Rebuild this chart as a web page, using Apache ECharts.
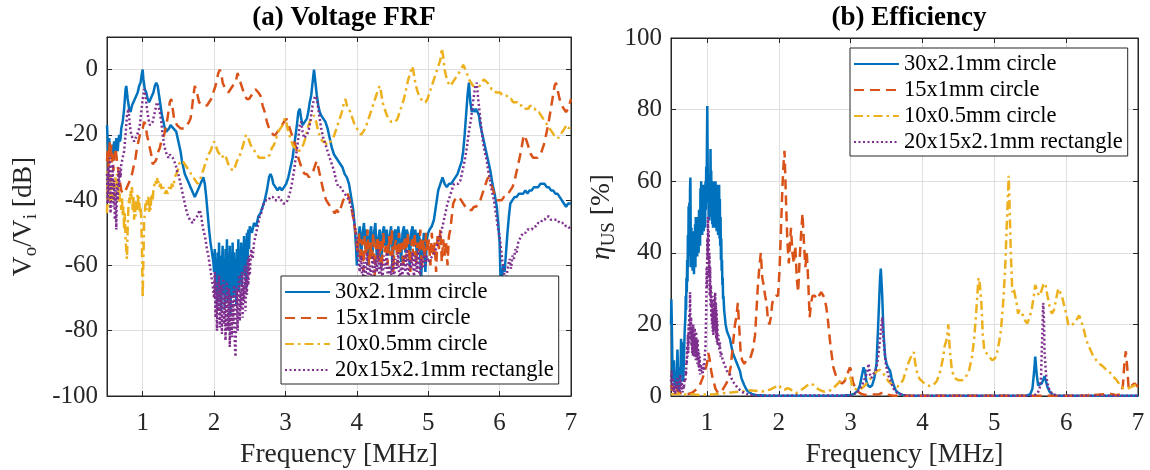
<!DOCTYPE html>
<html><head><meta charset="utf-8">
<script src="https://cdn.jsdelivr.net/npm/echarts@6/dist/echarts.min.js"></script>
<style>html,body{margin:0;padding:0;background:#fff}#c{width:1150px;height:470px}</style>
</head><body><div id="c"></div>
<script>
// ---------- data ----------
const seriesNames = ['30x2.1mm circle', '15x1mm circle', '10x0.5mm circle', '20x15x2.1mm rectangle'];
const freqTicks = [1, 2, 3, 4, 5, 6, 7];
const frfTicks = [-100, -80, -60, -40, -20, 0];
const effTicks = [0, 20, 40, 60, 80, 100];

// (a) Voltage FRF [dB] vs frequency [MHz]
const frfCircle30 = [[0.50,-17],[0.51,-22],[0.52,-26],[0.53,-21],[0.54,-24],[0.55,-27],[0.56,-23],[0.57,-25],[0.58,-28],[0.59,-24],[0.60,-22],[0.61,-26],[0.62,-24],[0.63,-21],[0.64,-23],[0.65,-25],[0.66,-22],[0.67,-20],[0.68,-22],[0.69,-21],[0.70,-18],[0.72,-16],[0.74,-12],[0.76,-6],[0.77,-5],[0.79,-9],[0.81,-12],[0.83,-13],[0.85,-11],[0.87,-11],[0.89,-9],[0.91,-8],[0.93,-7],[0.95,-5],[0.97,-4],[0.99,-1],[1.0,0],[1.01,-3],[1.03,-6],[1.05,-7],[1.07,-9],[1.09,-10],[1.11,-9],[1.13,-8],[1.15,-7],[1.17,-5],[1.19,-4],[1.21,-5],[1.23,-8],[1.25,-11],[1.27,-14],[1.29,-16],[1.31,-18],[1.33,-19],[1.35,-19],[1.37,-18],[1.39,-17],[1.41,-17],[1.43,-18],[1.45,-18],[1.47,-19],[1.49,-21],[1.51,-23],[1.53,-25],[1.55,-28],[1.57,-30],[1.59,-32],[1.61,-33],[1.63,-34],[1.65,-35],[1.67,-36],[1.69,-37],[1.71,-38],[1.73,-39],[1.75,-38],[1.77,-37],[1.79,-36],[1.81,-35],[1.83,-34],[1.85,-33],[1.87,-35],[1.89,-39],[1.91,-44],[1.93,-49],[1.95,-53],[1.97,-56],[1.99,-59],[2.00,-62],[2.01,-55],[2.02,-68],[2.03,-58],[2.04,-72],[2.05,-56],[2.06,-66],[2.07,-53],[2.08,-70],[2.09,-57],[2.10,-74],[2.11,-60],[2.12,-54],[2.13,-69],[2.14,-58],[2.15,-73],[2.16,-55],[2.17,-65],[2.18,-52],[2.19,-71],[2.20,-57],[2.21,-67],[2.22,-54],[2.23,-75],[2.24,-59],[2.25,-63],[2.26,-53],[2.27,-70],[2.28,-56],[2.29,-66],[2.30,-58],[2.31,-72],[2.32,-55],[2.33,-64],[2.34,-52],[2.35,-68],[2.36,-57],[2.37,-62],[2.38,-53],[2.39,-66],[2.40,-55],[2.41,-60],[2.42,-51],[2.43,-63],[2.44,-52],[2.45,-67],[2.46,-50],[2.47,-58],[2.48,-49],[2.49,-55],[2.50,-48],[2.53,-50],[2.56,-47],[2.59,-48],[2.62,-45],[2.65,-44],[2.68,-42],[2.71,-40],[2.74,-37],[2.77,-33],[2.79,-32],[2.81,-33],[2.83,-35],[2.86,-36],[2.89,-37],[2.92,-36],[2.95,-37],[2.98,-36],[3.01,-35],[3.04,-33],[3.07,-30],[3.10,-27],[3.13,-22],[3.16,-17],[3.18,-13],[3.20,-12],[3.22,-15],[3.24,-17],[3.27,-16],[3.30,-15],[3.32,-13],[3.34,-10],[3.36,-8],[3.38,-4],[3.40,0],[3.42,-4],[3.44,-8],[3.46,-11],[3.48,-13],[3.50,-14],[3.53,-15],[3.56,-16],[3.59,-18],[3.62,-21],[3.65,-24],[3.68,-26],[3.71,-27],[3.74,-28],[3.77,-29],[3.80,-30],[3.83,-32],[3.86,-33],[3.89,-35],[3.92,-39],[3.95,-43],[3.97,-48],[3.99,-55],[4.00,-60],[4.02,-52],[4.04,-48],[4.06,-58],[4.08,-50],[4.10,-47],[4.12,-55],[4.14,-49],[4.16,-60],[4.18,-51],[4.20,-48],[4.22,-56],[4.24,-50],[4.26,-47],[4.28,-58],[4.30,-52],[4.32,-49],[4.34,-61],[4.36,-50],[4.38,-48],[4.40,-54],[4.42,-49],[4.44,-57],[4.46,-51],[4.48,-48],[4.50,-62],[4.52,-50],[4.54,-49],[4.56,-55],[4.58,-48],[4.60,-52],[4.62,-59],[4.64,-50],[4.66,-48],[4.68,-56],[4.70,-49],[4.72,-51],[4.74,-60],[4.76,-50],[4.78,-48],[4.80,-54],[4.82,-49],[4.84,-57],[4.86,-50],[4.88,-52],[4.90,-64],[4.92,-55],[4.94,-50],[4.96,-62],[4.98,-52],[5.00,-50],[5.02,-49],[5.05,-48],[5.08,-46],[5.10,-43],[5.12,-40],[5.14,-37],[5.17,-35],[5.20,-33],[5.23,-35],[5.26,-36],[5.29,-35],[5.32,-35],[5.35,-34],[5.38,-33],[5.41,-32],[5.44,-30],[5.47,-28],[5.49,-25],[5.51,-20],[5.53,-14],[5.55,-8],[5.57,-4],[5.59,-10],[5.61,-13],[5.63,-12],[5.65,-13],[5.67,-12],[5.69,-12],[5.71,-14],[5.73,-17],[5.75,-19],[5.78,-22],[5.81,-25],[5.84,-28],[5.87,-31],[5.90,-35],[5.93,-38],[5.96,-42],[5.98,-47],[6.00,-53],[6.01,-62],[6.02,-70],[6.03,-64],[6.05,-60],[6.07,-62],[6.09,-56],[6.11,-50],[6.13,-45],[6.15,-41],[6.18,-40],[6.21,-39],[6.24,-39],[6.27,-38],[6.30,-38],[6.33,-38],[6.36,-37],[6.39,-38],[6.42,-37],[6.45,-37],[6.48,-36],[6.51,-36],[6.54,-36],[6.57,-35],[6.60,-35],[6.63,-35],[6.66,-36],[6.69,-36],[6.72,-37],[6.75,-37],[6.78,-38],[6.81,-38],[6.84,-39],[6.87,-40],[6.90,-41],[6.93,-42],[6.96,-41],[7.0,-41]];
const frfCircle15 = [[0.50,-28],[0.51,-24],[0.52,-30],[0.53,-25],[0.54,-22],[0.55,-27],[0.56,-23],[0.57,-29],[0.58,-26],[0.59,-31],[0.60,-27],[0.62,-24],[0.64,-28],[0.66,-31],[0.68,-34],[0.70,-37],[0.72,-38],[0.74,-38],[0.76,-37],[0.78,-36],[0.80,-36],[0.82,-34],[0.84,-33],[0.86,-31],[0.88,-29],[0.90,-27],[0.92,-24],[0.94,-22],[0.96,-20],[0.98,-19],[1.00,-18],[1.02,-16],[1.04,-17],[1.06,-20],[1.08,-22],[1.10,-24],[1.12,-26],[1.14,-29],[1.16,-29],[1.18,-28],[1.20,-27],[1.22,-25],[1.24,-24],[1.26,-22],[1.28,-21],[1.30,-20],[1.32,-18],[1.34,-16],[1.36,-13],[1.38,-10],[1.40,-9],[1.42,-12],[1.44,-15],[1.46,-16],[1.48,-17],[1.50,-17],[1.53,-18],[1.56,-18],[1.59,-18],[1.62,-17],[1.65,-16],[1.67,-15],[1.69,-12],[1.71,-8],[1.73,-5],[1.75,-5],[1.77,-8],[1.79,-10],[1.81,-10],[1.84,-11],[1.87,-11],[1.90,-11],[1.93,-10],[1.96,-9],[1.99,-7],[2.02,-5],[2.04,-3],[2.06,-1],[2.08,0],[2.10,-1],[2.12,-4],[2.14,-5],[2.17,-6],[2.20,-7],[2.23,-6],[2.26,-5],[2.29,-4],[2.31,-3],[2.33,-1],[2.35,-3],[2.37,-4],[2.40,-6],[2.43,-8],[2.46,-9],[2.49,-9],[2.52,-8],[2.55,-7],[2.58,-6],[2.60,-6],[2.62,-7],[2.65,-8],[2.68,-11],[2.71,-13],[2.74,-16],[2.77,-18],[2.80,-19],[2.83,-20],[2.86,-20],[2.89,-19],[2.92,-18],[2.95,-17],[2.98,-16],[3.01,-15],[3.03,-16],[3.06,-18],[3.09,-20],[3.12,-22],[3.15,-24],[3.18,-27],[3.21,-29],[3.24,-31],[3.27,-32],[3.30,-32],[3.33,-33],[3.36,-32],[3.39,-31],[3.42,-29],[3.44,-28],[3.46,-30],[3.48,-32],[3.51,-35],[3.54,-38],[3.57,-40],[3.60,-41],[3.63,-42],[3.66,-43],[3.69,-44],[3.72,-43],[3.75,-44],[3.78,-42],[3.81,-40],[3.84,-39],[3.87,-38],[3.90,-40],[3.93,-43],[3.96,-47],[3.99,-51],[4.01,-56],[4.03,-50],[4.05,-59],[4.07,-52],[4.09,-62],[4.11,-51],[4.13,-57],[4.15,-49],[4.17,-60],[4.19,-53],[4.21,-58],[4.23,-50],[4.25,-63],[4.27,-54],[4.29,-51],[4.31,-59],[4.33,-52],[4.35,-61],[4.37,-50],[4.39,-56],[4.41,-53],[4.43,-60],[4.45,-51],[4.47,-57],[4.49,-49],[4.51,-62],[4.53,-54],[4.55,-52],[4.57,-60],[4.59,-50],[4.61,-56],[4.63,-53],[4.65,-61],[4.67,-51],[4.69,-58],[4.71,-50],[4.73,-55],[4.75,-62],[4.77,-52],[4.79,-57],[4.81,-50],[4.83,-60],[4.85,-53],[4.87,-56],[4.89,-49],[4.91,-61],[4.93,-52],[4.95,-58],[4.97,-50],[4.99,-56],[5.01,-52],[5.03,-60],[5.05,-50],[5.07,-57],[5.09,-53],[5.11,-62],[5.13,-51],[5.15,-55],[5.17,-49],[5.19,-59],[5.21,-52],[5.23,-57],[5.25,-53],[5.27,-60],[5.29,-51],[5.31,-49],[5.33,-45],[5.35,-41],[5.37,-40],[5.40,-39],[5.43,-39],[5.46,-40],[5.49,-41],[5.52,-42],[5.55,-43],[5.58,-43],[5.61,-43],[5.64,-42],[5.67,-42],[5.70,-41],[5.73,-40],[5.76,-38],[5.79,-36],[5.82,-34],[5.84,-33],[5.86,-33],[5.88,-35],[5.91,-37],[5.94,-39],[5.97,-40],[6.00,-40],[6.03,-40],[6.06,-39],[6.09,-39],[6.12,-38],[6.15,-37],[6.18,-36],[6.21,-34],[6.24,-31],[6.27,-28],[6.30,-25],[6.33,-21],[6.35,-20],[6.38,-22],[6.41,-24],[6.44,-26],[6.47,-27],[6.50,-27],[6.53,-27],[6.56,-26],[6.59,-25],[6.62,-23],[6.65,-20],[6.68,-17],[6.71,-13],[6.74,-9],[6.77,-5],[6.79,-4],[6.81,-6],[6.84,-9],[6.87,-11],[6.90,-12],[6.93,-13],[6.96,-12],[7.00,-9]];
const frfCircle10 = [[0.50,-44],[0.51,-31],[0.52,-38],[0.53,-33],[0.54,-42],[0.55,-32],[0.56,-37],[0.57,-35],[0.58,-40],[0.59,-36],[0.60,-34],[0.61,-39],[0.62,-33],[0.63,-37],[0.64,-32],[0.65,-38],[0.66,-36],[0.67,-41],[0.68,-38],[0.69,-40],[0.70,-43],[0.71,-39],[0.72,-45],[0.73,-42],[0.74,-49],[0.75,-44],[0.76,-52],[0.77,-55],[0.78,-58],[0.79,-48],[0.80,-42],[0.81,-39],[0.82,-41],[0.83,-37],[0.84,-40],[0.85,-36],[0.86,-43],[0.87,-39],[0.88,-46],[0.89,-41],[0.90,-45],[0.91,-40],[0.92,-43],[0.93,-38],[0.94,-41],[0.95,-39],[0.96,-44],[0.97,-42],[0.98,-46],[0.99,-55],[1.00,-70],[1.01,-58],[1.02,-47],[1.03,-44],[1.04,-41],[1.05,-43],[1.06,-40],[1.07,-42],[1.08,-39],[1.09,-44],[1.10,-41],[1.11,-43],[1.12,-39],[1.13,-38],[1.14,-40],[1.15,-37],[1.16,-36],[1.17,-34],[1.19,-35],[1.21,-33],[1.23,-36],[1.25,-35],[1.27,-37],[1.29,-36],[1.31,-38],[1.33,-37],[1.35,-38],[1.37,-36],[1.39,-37],[1.41,-35],[1.43,-36],[1.45,-33],[1.47,-32],[1.49,-31],[1.51,-29],[1.53,-28],[1.56,-28],[1.59,-29],[1.62,-30],[1.65,-31],[1.68,-32],[1.71,-33],[1.74,-34],[1.77,-35],[1.80,-34],[1.83,-32],[1.86,-30],[1.89,-28],[1.92,-26],[1.95,-25],[1.98,-23],[2.00,-22],[2.02,-23],[2.05,-25],[2.08,-26],[2.11,-27],[2.14,-26],[2.17,-27],[2.20,-29],[2.23,-30],[2.26,-31],[2.29,-30],[2.32,-28],[2.35,-27],[2.38,-25],[2.41,-23],[2.43,-21],[2.45,-20],[2.48,-21],[2.51,-23],[2.54,-24],[2.57,-25],[2.60,-26],[2.63,-27],[2.66,-27],[2.69,-27],[2.72,-27],[2.75,-27],[2.78,-26],[2.81,-24],[2.84,-23],[2.87,-21],[2.90,-19],[2.93,-18],[2.96,-17],[2.99,-15],[3.01,-16],[3.04,-19],[3.07,-21],[3.10,-23],[3.13,-24],[3.16,-24],[3.19,-25],[3.22,-24],[3.25,-23],[3.28,-21],[3.31,-18],[3.34,-16],[3.37,-15],[3.40,-14],[3.43,-16],[3.46,-19],[3.49,-21],[3.52,-22],[3.55,-22],[3.58,-23],[3.61,-22],[3.64,-22],[3.67,-21],[3.70,-19],[3.73,-17],[3.76,-15],[3.79,-13],[3.82,-10],[3.84,-9],[3.86,-11],[3.88,-12],[3.91,-13],[3.94,-15],[3.97,-17],[4.00,-18],[4.03,-19],[4.06,-20],[4.09,-19],[4.12,-18],[4.15,-16],[4.18,-14],[4.21,-12],[4.24,-10],[4.27,-8],[4.30,-6],[4.32,-5],[4.34,-7],[4.36,-10],[4.39,-12],[4.42,-14],[4.45,-15],[4.48,-16],[4.51,-16],[4.54,-16],[4.57,-15],[4.60,-13],[4.63,-11],[4.66,-9],[4.69,-6],[4.72,-3],[4.75,-1],[4.77,1],[4.79,0],[4.81,-3],[4.84,-6],[4.87,-8],[4.90,-9],[4.93,-10],[4.96,-10],[4.99,-9],[5.02,-7],[5.05,-5],[5.08,-3],[5.11,-1],[5.14,1],[5.17,3],[5.19,6.5],[5.21,4],[5.23,0],[5.25,-2],[5.28,-4],[5.31,-5],[5.34,-4],[5.37,-3],[5.40,-2],[5.43,-1],[5.46,0],[5.49,1.5],[5.51,1],[5.54,-1],[5.57,-3],[5.60,-4],[5.63,-5],[5.66,-5],[5.69,-5],[5.72,-5],[5.75,-4],[5.78,-3],[5.80,-3],[5.83,-4],[5.86,-5],[5.89,-6],[5.92,-6],[5.95,-7],[5.98,-7],[6.01,-7],[6.04,-8],[6.07,-8],[6.10,-8],[6.13,-9],[6.16,-9],[6.19,-10],[6.22,-10],[6.25,-10],[6.28,-11],[6.31,-11],[6.34,-12],[6.37,-12],[6.40,-12],[6.43,-11],[6.46,-12],[6.49,-12],[6.52,-13],[6.55,-13],[6.58,-14],[6.61,-15],[6.64,-16],[6.67,-17],[6.70,-18],[6.73,-19],[6.76,-20],[6.79,-20],[6.82,-21],[6.85,-20],[6.88,-19],[6.91,-18],[6.94,-17],[6.97,-18],[7.00,-17]];
const frfRect20 = [[0.50,-32],[0.51,-41],[0.52,-30],[0.53,-38],[0.54,-27],[0.55,-44],[0.56,-33],[0.57,-36],[0.58,-29],[0.59,-42],[0.60,-34],[0.61,-46],[0.62,-37],[0.63,-49],[0.64,-35],[0.65,-40],[0.66,-31],[0.67,-36],[0.68,-30],[0.69,-33],[0.70,-29],[0.72,-27],[0.74,-25],[0.76,-20],[0.78,-14],[0.80,-12],[0.82,-17],[0.84,-20],[0.86,-21],[0.88,-22],[0.90,-21],[0.92,-20],[0.94,-19],[0.96,-17],[0.98,-13],[1.00,-9],[1.02,-6],[1.04,-8],[1.06,-12],[1.08,-15],[1.10,-17],[1.12,-17],[1.14,-16],[1.16,-14],[1.18,-12],[1.20,-10],[1.22,-11],[1.24,-13],[1.26,-16],[1.28,-20],[1.30,-23],[1.32,-25],[1.34,-26],[1.36,-27],[1.38,-26],[1.40,-26],[1.42,-27],[1.44,-28],[1.46,-29],[1.48,-31],[1.50,-32],[1.52,-34],[1.54,-36],[1.56,-38],[1.58,-40],[1.60,-42],[1.62,-44],[1.64,-45],[1.66,-46],[1.68,-46],[1.70,-47],[1.72,-46],[1.74,-46],[1.76,-45],[1.78,-44],[1.80,-43],[1.82,-45],[1.84,-48],[1.86,-50],[1.88,-52],[1.90,-55],[1.92,-57],[1.94,-60],[1.96,-63],[1.98,-66],[2.00,-70],[2.01,-62],[2.02,-76],[2.03,-65],[2.04,-80],[2.05,-68],[2.06,-74],[2.07,-63],[2.08,-79],[2.09,-70],[2.10,-66],[2.11,-81],[2.12,-71],[2.13,-64],[2.14,-78],[2.15,-69],[2.16,-83],[2.17,-72],[2.18,-65],[2.19,-80],[2.20,-74],[2.21,-67],[2.22,-85],[2.23,-73],[2.24,-69],[2.25,-82],[2.26,-71],[2.27,-78],[2.28,-66],[2.29,-84],[2.30,-88],[2.31,-74],[2.32,-67],[2.33,-80],[2.34,-70],[2.35,-63],[2.36,-77],[2.37,-68],[2.38,-73],[2.39,-62],[2.40,-76],[2.41,-66],[2.42,-71],[2.43,-60],[2.44,-74],[2.45,-64],[2.46,-69],[2.47,-58],[2.48,-66],[2.49,-57],[2.50,-63],[2.52,-55],[2.54,-58],[2.56,-53],[2.58,-51],[2.60,-49],[2.62,-47],[2.64,-45],[2.66,-44],[2.68,-42],[2.70,-41],[2.73,-40],[2.76,-40],[2.79,-39],[2.82,-39],[2.85,-40],[2.88,-40],[2.91,-39],[2.94,-40],[2.97,-41],[3.00,-41],[3.03,-40],[3.06,-38],[3.09,-35],[3.12,-31],[3.15,-26],[3.18,-21],[3.20,-17],[3.22,-16],[3.24,-19],[3.26,-21],[3.28,-21],[3.30,-20],[3.32,-19],[3.34,-17],[3.36,-14],[3.38,-11],[3.40,-9],[3.42,-8],[3.44,-9],[3.46,-12],[3.48,-15],[3.50,-18],[3.53,-21],[3.56,-23],[3.59,-25],[3.62,-27],[3.65,-29],[3.68,-31],[3.71,-34],[3.74,-36],[3.77,-36],[3.80,-37],[3.83,-38],[3.86,-39],[3.89,-40],[3.92,-42],[3.95,-45],[3.98,-49],[4.00,-53],[4.02,-58],[4.04,-62],[4.06,-57],[4.08,-66],[4.10,-59],[4.12,-64],[4.14,-56],[4.16,-68],[4.18,-60],[4.20,-63],[4.22,-57],[4.24,-66],[4.26,-58],[4.28,-62],[4.30,-55],[4.32,-67],[4.34,-59],[4.36,-64],[4.38,-57],[4.40,-61],[4.42,-56],[4.44,-69],[4.46,-60],[4.48,-63],[4.50,-57],[4.52,-65],[4.54,-58],[4.56,-61],[4.58,-56],[4.60,-67],[4.62,-59],[4.64,-63],[4.66,-57],[4.68,-62],[4.70,-55],[4.72,-66],[4.74,-58],[4.76,-61],[4.78,-56],[4.80,-64],[4.82,-57],[4.84,-62],[4.86,-55],[4.88,-65],[4.90,-58],[4.92,-61],[4.94,-56],[4.96,-60],[4.98,-57],[5.00,-59],[5.03,-58],[5.06,-57],[5.09,-56],[5.12,-54],[5.15,-52],[5.18,-50],[5.21,-47],[5.24,-44],[5.27,-41],[5.30,-39],[5.33,-37],[5.36,-35],[5.39,-35],[5.42,-35],[5.45,-34],[5.48,-31],[5.51,-28],[5.54,-24],[5.57,-19],[5.60,-15],[5.62,-11],[5.64,-8],[5.66,-5],[5.68,-4],[5.70,-9],[5.72,-13],[5.74,-17],[5.76,-21],[5.78,-24],[5.80,-26],[5.82,-28],[5.84,-31],[5.86,-33],[5.88,-36],[5.90,-38],[5.92,-40],[5.94,-43],[5.96,-46],[5.98,-49],[6.00,-51],[6.02,-55],[6.04,-59],[6.06,-62],[6.08,-65],[6.10,-63],[6.12,-60],[6.14,-58],[6.16,-61],[6.18,-57],[6.20,-58],[6.22,-55],[6.24,-56],[6.26,-53],[6.28,-53],[6.30,-51],[6.33,-50],[6.36,-50],[6.39,-49],[6.42,-49],[6.45,-49],[6.48,-48],[6.51,-48],[6.54,-47],[6.57,-47],[6.60,-46],[6.63,-46],[6.66,-45],[6.69,-45],[6.72,-46],[6.75,-46],[6.78,-46],[6.81,-46],[6.84,-47],[6.87,-47],[6.90,-47],[6.93,-48],[6.96,-48],[7.00,-49]];

// (b) Efficiency eta_US [%] vs frequency [MHz]
const effCircle30 = [[0.50,20],[0.505,27],[0.51,22],[0.52,8],[0.53,4],[0.54,10],[0.55,3],[0.56,6],[0.57,2],[0.58,7],[0.59,13],[0.60,5],[0.61,2],[0.62,8],[0.63,3],[0.64,16],[0.65,7],[0.66,15],[0.67,4],[0.68,10],[0.69,18],[0.700,22],[0.705,28],[0.710,24],[0.715,33],[0.720,29],[0.725,38],[0.730,32],[0.735,45],[0.740,36],[0.745,53],[0.750,41],[0.755,54],[0.760,39],[0.765,58],[0.770,61],[0.775,44],[0.780,36],[0.785,47],[0.790,38],[0.795,44],[0.800,35],[0.805,46],[0.810,37],[0.815,42],[0.820,34],[0.825,45],[0.830,38],[0.835,48],[0.840,36],[0.845,50],[0.850,40],[0.855,46],[0.860,50],[0.865,39],[0.870,47],[0.875,41],[0.880,49],[0.885,40],[0.890,52],[0.895,43],[0.900,51],[0.905,42],[0.910,58],[0.915,46],[0.920,60],[0.925,47],[0.930,57],[0.935,45],[0.940,55],[0.945,48],[0.950,59],[0.955,46],[0.960,56],[0.965,49],[0.970,58],[0.975,47],[0.980,60],[0.985,52],[0.990,64],[0.995,55],[1.000,70],[1.005,81],[1.010,66],[1.015,54],[1.020,62],[1.025,50],[1.030,58],[1.035,49],[1.040,61],[1.045,52],[1.050,69],[1.055,55],[1.060,63],[1.065,50],[1.070,57],[1.075,48],[1.080,55],[1.085,47],[1.090,60],[1.095,51],[1.100,58],[1.105,49],[1.110,56],[1.115,47],[1.120,60],[1.125,50],[1.130,57],[1.135,46],[1.140,59],[1.145,48],[1.150,56],[1.155,45],[1.160,58],[1.165,47],[1.170,59],[1.175,44],[1.180,55],[1.185,42],[1.190,50],[1.195,38],[1.200,44],[1.205,35],[1.210,38],[1.215,31],[1.220,33],[1.225,27],[1.230,28],[1.240,24],[1.250,22],[1.26,20],[1.28,18],[1.30,17],[1.32,16],[1.34,14],[1.36,12],[1.38,11],[1.40,10],[1.42,9],[1.44,8],[1.46,7],[1.48,5],[1.50,4],[1.52,3],[1.54,2.2],[1.56,1.5],[1.58,1],[1.62,0.6],[1.68,0.3],[1.80,0.15],[2.0,0.1],[2.5,0.1],[2.9,0.15],[3.0,0.3],[3.05,0.6],[3.10,1.5],[3.13,3],[3.16,6],[3.18,8],[3.20,7],[3.22,4],[3.24,3],[3.27,2.5],[3.30,3],[3.33,5],[3.36,9],[3.38,18],[3.40,28],[3.41,33],[3.42,35.6],[3.43,32],[3.44,28],[3.45,22],[3.46,17],[3.48,11],[3.50,9],[3.52,8],[3.55,7],[3.57,5],[3.60,3],[3.63,1.5],[3.67,0.8],[3.72,0.3],[3.80,0.1],[4.5,0.1],[5.45,0.1],[5.50,0.5],[5.53,2],[5.55,6],[5.57,11],[5.59,6],[5.61,3],[5.63,3],[5.66,3.5],[5.68,4.5],[5.70,5.5],[5.72,4],[5.74,2.5],[5.77,1.2],[5.80,0.5],[5.85,0.1],[7.0,0.1]];
const effCircle15 = [[0.50,3],[0.52,1.5],[0.54,2.5],[0.56,3.5],[0.58,2],[0.60,1.2],[0.63,0.8],[0.66,0.6],[0.70,0.5],[0.75,0.6],[0.80,1],[0.85,1.8],[0.90,3],[0.94,5],[0.97,7],[1.00,9],[1.02,12],[1.04,10],[1.06,7],[1.08,5],[1.10,3.5],[1.12,2],[1.15,1],[1.18,0.8],[1.21,1.5],[1.24,2.5],[1.27,3.5],[1.30,5],[1.33,8],[1.35,12],[1.37,16],[1.39,20],[1.41,22],[1.43,26],[1.45,19],[1.47,12],[1.49,10],[1.52,9],[1.55,10],[1.58,10],[1.61,11],[1.64,13],[1.67,17],[1.69,24],[1.71,31],[1.73,36],[1.75,40],[1.77,33],[1.79,31],[1.81,28],[1.83,26],[1.85,21],[1.87,20],[1.89,22],[1.91,26],[1.93,27],[1.96,28],[1.99,28],[2.01,35],[2.03,46],[2.05,58],[2.07,66],[2.08,68.5],[2.09,62],[2.10,55],[2.12,43],[2.14,37],[2.16,44],[2.17,47],[2.19,40],[2.21,37],[2.23,42],[2.25,33],[2.27,29],[2.29,38],[2.31,45],[2.33,51],[2.35,43],[2.37,36],[2.39,40],[2.41,32],[2.43,22],[2.45,26],[2.47,28],[2.50,28],[2.53,27],[2.56,28],[2.59,29],[2.62,28],[2.64,27],[2.66,25],[2.68,22],[2.70,18],[2.72,14],[2.74,11],[2.76,8],[2.79,6],[2.82,4.5],[2.85,4],[2.88,3.5],[2.91,4],[2.94,5],[2.97,7],[2.99,8],[3.01,7],[3.03,4],[3.06,2.5],[3.10,1.2],[3.15,0.6],[3.20,0.3],[3.40,0.5],[3.45,1],[3.50,0.4],[3.60,0.1],[6.30,0.1],[6.35,0.8],[6.38,0.3],[6.55,0.5],[6.62,0.6],[6.70,0.2],[6.76,0.5],[6.79,3],[6.81,9],[6.83,12.5],[6.85,8],[6.87,2],[6.89,1.5],[6.92,3],[6.95,3.5],[6.98,3],[7.00,2.5]];
const effCircle10 = [[0.50,0.5],[0.60,0.6],[0.70,0.4],[0.80,0.5],[0.90,0.3],[1.00,0.4],[1.10,0.5],[1.20,0.7],[1.30,0.9],[1.40,1.1],[1.50,1.3],[1.60,1.6],[1.70,1.4],[1.76,1.2],[1.82,1.5],[1.88,1.8],[1.94,2.4],[1.98,3],[2.01,2.8],[2.04,2],[2.08,1.7],[2.12,2.2],[2.16,1.9],[2.20,1.2],[2.24,0.8],[2.28,1.2],[2.32,1.8],[2.36,2.4],[2.40,3],[2.44,3.5],[2.48,3.1],[2.52,2.3],[2.56,1.8],[2.60,1.4],[2.64,1.2],[2.68,1.3],[2.72,1.6],[2.76,2.2],[2.80,3],[2.84,3.8],[2.88,4.3],[2.92,4.8],[2.96,5.5],[2.98,6],[3.00,5],[3.02,3],[3.05,2.2],[3.09,1.7],[3.13,1.8],[3.17,2.4],[3.21,3.2],[3.25,4.2],[3.29,5.2],[3.33,6.3],[3.37,7],[3.41,7.3],[3.45,6.5],[3.49,5.2],[3.53,4],[3.57,3.3],[3.61,2.8],[3.65,2.6],[3.69,3.2],[3.73,4.5],[3.77,7],[3.80,9],[3.83,10.5],[3.86,11.5],[3.88,12.3],[3.90,9],[3.93,6],[3.96,4.8],[4.00,4],[4.05,3.2],[4.10,2.8],[4.15,3],[4.20,4.2],[4.25,7],[4.28,10],[4.31,14],[4.34,16],[4.36,20],[4.38,13],[4.41,7],[4.45,5],[4.50,4.4],[4.55,4.4],[4.60,5.2],[4.65,7.2],[4.69,11],[4.72,16],[4.75,24],[4.77,30],[4.78,33],[4.80,31],[4.82,26],[4.84,17],[4.86,13],[4.89,12],[4.93,11],[4.97,10],[5.01,10.5],[5.05,13],[5.09,18],[5.12,25],[5.15,35],[5.17,46],[5.19,56],[5.20,61.5],[5.21,55],[5.23,40],[5.25,29],[5.27,30],[5.29,30],[5.31,26],[5.33,23],[5.35,24],[5.37,24],[5.40,22.5],[5.43,21],[5.46,20.3],[5.49,22],[5.52,24],[5.55,28],[5.57,31],[5.59,30],[5.62,28],[5.65,29],[5.68,31],[5.71,31.5],[5.74,28],[5.77,25],[5.80,23],[5.83,24],[5.86,27],[5.89,30],[5.91,30.5],[5.94,28],[5.97,25.5],[6.00,23],[6.03,20],[6.06,19.5],[6.09,20],[6.12,20.5],[6.15,21.5],[6.18,22.5],[6.21,21],[6.24,19],[6.27,16.5],[6.30,14.5],[6.34,12.8],[6.38,11],[6.42,10],[6.46,9],[6.50,8.5],[6.55,7.5],[6.60,6.8],[6.65,5.5],[6.70,4.5],[6.75,3],[6.80,2.2],[6.85,2],[6.90,2.5],[6.95,3],[7.00,2.6]];
const effRect20 = [[0.50,4],[0.51,7],[0.52,2],[0.53,5],[0.54,1],[0.55,3],[0.56,0.5],[0.57,4],[0.58,2],[0.59,5],[0.60,1.5],[0.61,3],[0.62,1],[0.63,6],[0.64,2],[0.65,4],[0.66,1],[0.67,3],[0.68,2],[0.69,5],[0.700,4],[0.705,7],[0.710,6],[0.715,10],[0.720,9],[0.725,14],[0.730,11],[0.735,17],[0.740,12],[0.745,20],[0.750,15],[0.755,23],[0.760,18],[0.765,29],[0.770,21],[0.775,16],[0.780,22],[0.785,14],[0.790,19],[0.795,12],[0.800,18],[0.805,11],[0.810,20],[0.815,13],[0.820,17],[0.825,11],[0.830,19],[0.835,12],[0.840,16],[0.845,10],[0.850,18],[0.855,11],[0.860,15],[0.865,9],[0.870,16],[0.875,10],[0.880,13],[0.885,8],[0.890,12],[0.895,7],[0.900,11],[0.905,6],[0.910,9],[0.920,7],[0.930,8],[0.940,6],[0.950,9],[0.960,7],[0.970,11],[0.980,14],[0.990,24],[0.995,36],[1.000,30],[1.005,44],[1.010,38],[1.015,50],[1.020,41],[1.025,46],[1.030,33],[1.035,40],[1.040,28],[1.045,36],[1.050,25],[1.055,31],[1.060,22],[1.065,29],[1.070,20],[1.075,27],[1.080,18],[1.085,24],[1.090,17],[1.095,26],[1.100,19],[1.105,28],[1.110,20],[1.115,29],[1.120,18],[1.125,26],[1.130,16],[1.135,24],[1.140,15],[1.145,21],[1.150,14],[1.160,17],[1.170,13],[1.180,15],[1.190,11],[1.200,12],[1.22,10],[1.24,9],[1.26,8],[1.28,7],[1.30,6.5],[1.32,6],[1.34,5],[1.36,4.5],[1.38,3.5],[1.40,3],[1.44,2],[1.48,1.3],[1.52,0.8],[1.58,0.4],[1.70,0.15],[2.0,0.1],[3.0,0.15],[3.08,0.8],[3.13,2],[3.17,3.5],[3.20,5],[3.23,6.5],[3.25,9],[3.27,6],[3.29,5],[3.31,6],[3.33,6.5],[3.35,7],[3.37,9],[3.39,12],[3.41,16],[3.43,20],[3.44,22],[3.45,18],[3.47,13],[3.49,9],[3.51,7],[3.53,5.5],[3.56,4],[3.60,2],[3.65,0.8],[3.72,0.3],[3.80,0.1],[5.55,0.1],[5.60,0.7],[5.63,2],[5.65,5],[5.66,12],[5.67,18],[5.68,26],[5.69,22],[5.70,12],[5.72,6],[5.74,3.5],[5.77,1.5],[5.82,0.4],[5.90,0.1],[7.0,0.1]];

// ---------- chart ----------
const FONT = 'Liberation Serif';
const INK = '#262626';
const lineStyles = [
  { color: '#0072BD', width: 2.5, type: 'solid' },
  { color: '#D95319', width: 2.5, type: [10, 6] },
  { color: '#EDB120', width: 2.5, type: [9, 4, 2.5, 4] },
  { color: '#7E2F8E', width: 2.5, type: [2, 2.5] }
];
const frfData = [frfCircle30, frfCircle15, frfCircle10, frfRect20];
const effData = [effCircle30, effCircle15, effCircle10, effRect20];

function xAxis(gi, main) {
  return {
    type: 'value', gridIndex: gi, position: main ? 'bottom' : 'top', min: 0.5, max: 7,
    axisLine: { show: true, onZero: false, lineStyle: { color: INK, width: 1 } },
    axisTick: { show: true, inside: true, length: 5, customValues: freqTicks, lineStyle: { color: INK } },
    axisLabel: { show: main, customValues: freqTicks, color: INK, fontFamily: FONT, fontSize: 25, margin: 15 },
    splitLine: { show: main, lineStyle: { color: '#DFDFDF', width: 1 } },
    name: main ? 'Frequency [MHz]' : '', nameLocation: 'middle', nameGap: 40,
    nameTextStyle: { color: INK, fontFamily: FONT, fontSize: 27.5 }
  };
}
function yAxis(gi, main, min, max, ticks, name, rich, gap) {
  return {
    type: 'value', gridIndex: gi, position: main ? 'left' : 'right', min: min, max: max,
    axisLine: { show: true, onZero: false, lineStyle: { color: INK, width: 1 } },
    axisTick: { show: true, inside: true, length: 5, customValues: ticks, lineStyle: { color: INK } },
    axisLabel: { show: main, customValues: ticks, color: INK, fontFamily: FONT, fontSize: 25, margin: 9 },
    splitLine: { show: main, lineStyle: { color: '#DFDFDF', width: 1 } },
    name: main ? name : '', nameLocation: 'middle', nameGap: gap,
    nameTextStyle: { color: INK, fontFamily: FONT, fontSize: 27.5, rich: rich }
  };
}
const richFrf = {
  a: { fontFamily: FONT, fontSize: 27.5, color: INK, lineHeight: 34, verticalAlign: 'middle' },
  b: { fontFamily: FONT, fontSize: 19, color: INK, lineHeight: 19, verticalAlign: 'bottom' }
};
const richEff = {
  e: { fontFamily: FONT, fontSize: 27.5, fontStyle: 'italic', color: INK, lineHeight: 34, verticalAlign: 'middle' },
  a: { fontFamily: FONT, fontSize: 27.5, color: INK, lineHeight: 34, verticalAlign: 'middle' },
  b: { fontFamily: FONT, fontSize: 19, color: INK, lineHeight: 19, verticalAlign: 'bottom' }
};

const series = [];
frfData.forEach((d, i) => series.push({
  name: seriesNames[i], type: 'line', xAxisIndex: 0, yAxisIndex: 0, data: d,
  symbol: 'none', showSymbol: false, lineStyle: lineStyles[i], itemStyle: { color: lineStyles[i].color },
  animation: false, silent: true, clip: true
}));
effData.forEach((d, i) => series.push({
  name: seriesNames[i], type: 'line', xAxisIndex: 2, yAxisIndex: 2, data: d,
  symbol: 'none', showSymbol: false, lineStyle: lineStyles[i], itemStyle: { color: lineStyles[i].color },
  animation: false, silent: true, clip: true
}));

function legend(left, top) {
  return {
    data: seriesNames, orient: 'vertical', left: left, top: top,
    padding: [3, 5, 1, 3], itemGap: 0, itemWidth: 45, itemHeight: 14,
    backgroundColor: '#fff', borderColor: INK, borderWidth: 1, borderRadius: 0,
    itemStyle: { opacity: 0, borderWidth: 0 },
    lineStyle: { width: 2 },
    textStyle: { color: '#000', fontFamily: FONT, fontSize: 22.5, lineHeight: 26 },
    selectedMode: false
  };
}

const option = {
  animation: false,
  backgroundColor: '#fff',
  title: [
    { text: '(a) Voltage FRF', left: 339, top: 0, textAlign: 'center',
      textStyle: { fontFamily: FONT, fontSize: 27, fontWeight: 'bold', color: '#000' } },
    { text: '(b) Efficiency', left: 904, top: 0, textAlign: 'center',
      textStyle: { fontFamily: FONT, fontSize: 27, fontWeight: 'bold', color: '#000' } }
  ],
  grid: [
    { left: 107, width: 464, top: 37, height: 359, show: true, borderColor: INK, borderWidth: 1, backgroundColor: '#fff', containLabel: false, outerBoundsMode: 'none' },
    { left: 671, width: 467, top: 38, height: 358, show: true, borderColor: INK, borderWidth: 1, backgroundColor: '#fff', containLabel: false, outerBoundsMode: 'none' }
  ],
  xAxis: [xAxis(0, true), xAxis(0, false), xAxis(1, true), xAxis(1, false)],
  yAxis: [
    yAxis(0, true, -100, 10, frfTicks, '{a|V}{b|o}{a|/V}{b|i}{a| [dB]}', richFrf, 66),
    yAxis(0, false, -100, 10, frfTicks, '', richFrf, 66),
    yAxis(1, true, 0, 100, effTicks, '{e|η}{b|US}{a| [%]}', richEff, 52),
    yAxis(1, false, 0, 100, effTicks, '', richEff, 52)
  ],
  legend: [legend(281, 276), legend(850, 48)],
  series: series
};
const chart = echarts.init(document.getElementById('c'), null, { renderer: 'canvas' });
chart.setOption(option);
</script>
</body></html>
